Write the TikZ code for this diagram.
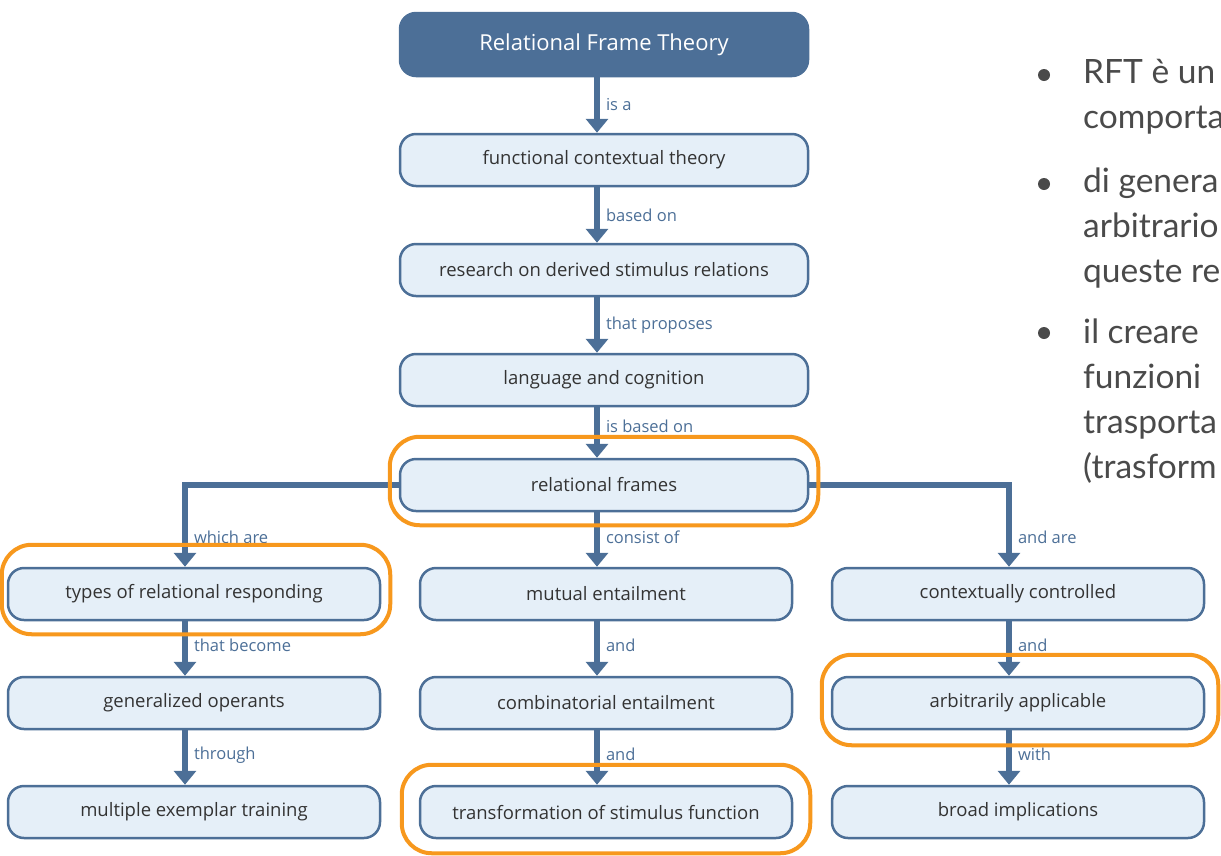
\documentclass[tikz,border=0pt]{standalone}
\usepackage{fontspec}
\setmainfont{Open Sans}
\newfontfamily\slidefont{Lato}
\usetikzlibrary{arrows.meta}

\definecolor{frameblue}{HTML}{4C6F97}
\definecolor{boxfill}{HTML}{E5EFF8}
\definecolor{boxtext}{HTML}{333333}
\definecolor{marker}{HTML}{F7981D}
\definecolor{slidegray}{HTML}{4A4A4A}

\tikzset{
  box/.style={draw=frameblue, line width=2.5pt, fill=boxfill, rounded corners=16pt,
    minimum width=408pt, minimum height=52pt, text=boxtext,
    font=\fontsize{18.5}{20}\selectfont},
  smallbox/.style={box, minimum width=372pt},
  head/.style={box, fill=frameblue, text=white, minimum height=63pt,
    font=\fontsize{22}{24}\selectfont},
  link/.style={draw=frameblue, line width=6pt, -{Triangle[width=22pt,length=14pt]}},
  lbl/.style={text=frameblue, font=\fontsize{16.5}{18}\selectfont, anchor=west,
    inner sep=2pt, xshift=4pt},
  ring/.style={draw=marker, line width=4pt, rounded corners=30pt},
  slide/.style={text=slidegray, align=left, anchor=base west, inner sep=0pt,
    font=\slidefont\fontsize{33.5}{45}\selectfont},
}

\begin{document}
\begin{tikzpicture}[x=1pt,y=-1pt]
\useasboundingbox (0,0) rectangle (1221,855);

% main chain
\node[head] (rft) at (604,44.5) {Relational Frame Theory};
\node[box] (fct) at (604,160) {functional contextual theory};
\node[box] (derived) at (604,270) {research on derived stimulus relations};
\node[box] (langcog) at (604,380) {language and cognition};
\node[box] (frames) at (604,485) {relational frames};

% three columns
\node[smallbox] (types) at (194,594) {types of relational responding};
\node[smallbox] (mutual) at (606,594) {mutual entailment};
\node[smallbox] (context) at (1018,594) {contextually controlled};
\node[smallbox] (operants) at (194,703) {generalized operants};
\node[smallbox] (combin) at (606,703) {combinatorial entailment};
\node[smallbox] (arbit) at (1018,703) {arbitrarily applicable};
\node[smallbox] (exemplar) at (194,812) {multiple exemplar training};
\node[smallbox] (transform) at (606,812) {transformation of stimulus function};
\node[smallbox] (implic) at (1018,812) {broad implications};

\draw[link] ([xshift=-7]rft.south) -- node[lbl]{is a} ([xshift=-7]fct.north);
\draw[link] ([xshift=-7]fct.south) -- node[lbl]{based on} ([xshift=-7]derived.north);
\draw[link] ([xshift=-7]derived.south) -- node[lbl]{that proposes} ([xshift=-7]langcog.north);
\draw[link] ([xshift=-7]langcog.south) -- node[lbl,pos=0.38]{is based on} ([xshift=-7]frames.north);

\draw[link] (frames.west) -| node[lbl,pos=0.82]{which are} ([xshift=-9]types.north);
\draw[link] ([xshift=-7]frames.south) -- node[lbl,pos=0.45]{consist of} ([xshift=-9]mutual.north);
\draw[link] (frames.east) -| node[lbl,pos=0.82]{and are} ([xshift=-9]context.north);

\draw[link] ([xshift=-9]types.south) -- node[lbl,pos=0.45]{that become} ([xshift=-9]operants.north);
\draw[link] ([xshift=-9]operants.south) -- node[lbl,pos=0.45]{through} ([xshift=-9]exemplar.north);
\draw[link] ([xshift=-9]mutual.south) -- node[lbl,pos=0.45]{and} ([xshift=-9]combin.north);
\draw[link] ([xshift=-9]combin.south) -- node[lbl,pos=0.45]{and} ([xshift=-9]transform.north);
\draw[link] ([xshift=-9]context.south) -- node[lbl,pos=0.45]{and} ([xshift=-9]arbit.north);
\draw[link] ([xshift=-9]arbit.south) -- node[lbl,pos=0.45]{with} ([xshift=-9]implic.north);

% orange marks
\draw[ring] ([shift={(-9,-21)}]frames.north west) rectangle ([shift={(9,13)}]frames.south east);
\draw[ring] ([shift={(-5,-22)}]types.north west) rectangle ([shift={(9,13)}]types.south east);
\draw[ring] ([shift={(-9,-21)}]arbit.north west) rectangle ([shift={(13,15)}]arbit.south east);
\draw[ring] ([shift={(-17,-20)}]transform.north west) rectangle ([shift={(17,14)}]transform.south east);

% slide text
\fill[slidegray] (1044,75) circle (6);
\fill[slidegray] (1044,184) circle (6);
\fill[slidegray] (1044,333) circle (6);
\node[slide] (first) at (1083,128) {RFT è un\\comporta};
\node[slide] (second) at (1083,282) {di genera\\arbitrario\\queste re};
\node[slide] (third) at (1083,478) {il creare\\funzioni\\trasporta\\(trasform};
\end{tikzpicture}
\end{document}
